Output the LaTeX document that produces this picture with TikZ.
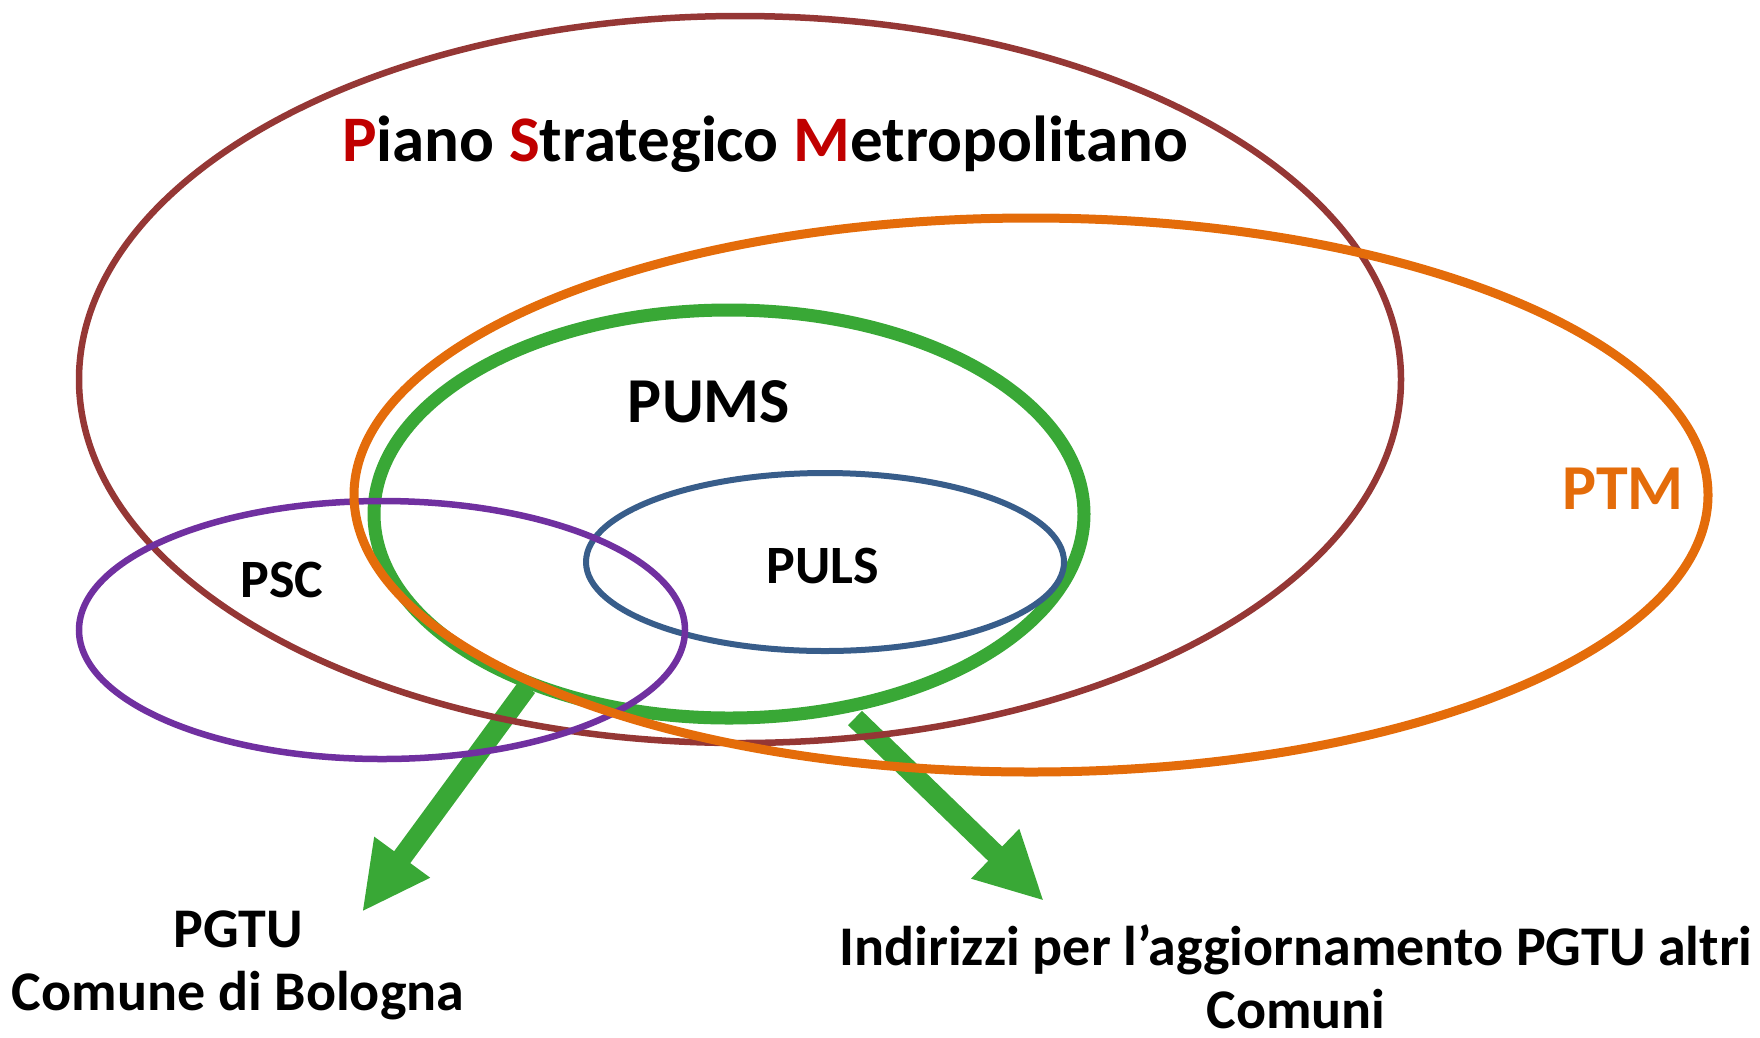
\documentclass[tikz,border=0pt]{standalone}
\usepackage{fontspec}
\setmainfont{Carlito}
\usetikzlibrary{arrows.meta}
\definecolor{psmbrown}{RGB}{149,55,53}
\definecolor{psmred}{RGB}{192,0,0}
\definecolor{ptmorange}{RGB}{228,108,10}
\definecolor{pumsgreen}{RGB}{57,168,54}
\definecolor{pulsblue}{RGB}{56,93,138}
\definecolor{pscpurple}{RGB}{112,48,160}

\begin{document}
\begin{tikzpicture}[x=1pt,y=-1pt,
  ring/.style={line width=#1},
  lbl/.style={font=\bfseries\fontsize{#1}{#1}\selectfont,inner sep=0pt,anchor=base},
  outlbl/.style={font=\bfseries\fontsize{56}{63}\selectfont,align=center,inner sep=0pt,anchor=base},
  flow/.style={draw=pumsgreen,line width=20pt,-{Triangle[length=68pt,width=64pt]}}
]
  \useasboundingbox (0,0) rectangle (1760,1037);

  % ends of the two green arrows
  \coordinate (fromL) at (527,687);
  \coordinate (toL) at (362,912);
  \coordinate (fromR) at (855,718);
  \coordinate (toR) at (1044,901);
  \draw[flow] (fromL) -- (toL);
  \draw[flow] (fromR) -- (toR);

  % sets
  \draw[ring=13pt,pumsgreen] (729,514) ellipse [x radius=355,y radius=204];
  \draw[ring=6pt,pulsblue] (825,562) ellipse [x radius=239,y radius=89];
  \draw[ring=6.5pt,psmbrown] (740,379.5) ellipse [x radius=661,y radius=363.5];
  \draw[ring=6.5pt,pscpurple] (382,630) ellipse [x radius=303,y radius=129];
  \draw[ring=9pt,ptmorange] (1031,495) ellipse [x radius=677,y radius=277];

  % labels (multi-line ones sit on their last line)
  \node[lbl=65] (psm) at (765,161) {{\color{psmred}P}iano {\color{psmred}S}trategico {\color{psmred}M}etropolitano};
  \node[lbl=64] (pums) at (709,422) {PUMS};
  \node[lbl=54] (puls) at (823,583) {PULS};
  \node[lbl=54] (psc) at (282,597) {PSC};
  \node[lbl=64,text=ptmorange] (ptm) at (1623,509) {PTM};
  \node[outlbl] (pgtu) at (238,1010) {PGTU\\Comune di Bologna};
  \node[outlbl] (altri) at (1296,1028) {Indirizzi per l’aggiornamento PGTU altri\\Comuni};
\end{tikzpicture}
\end{document}
